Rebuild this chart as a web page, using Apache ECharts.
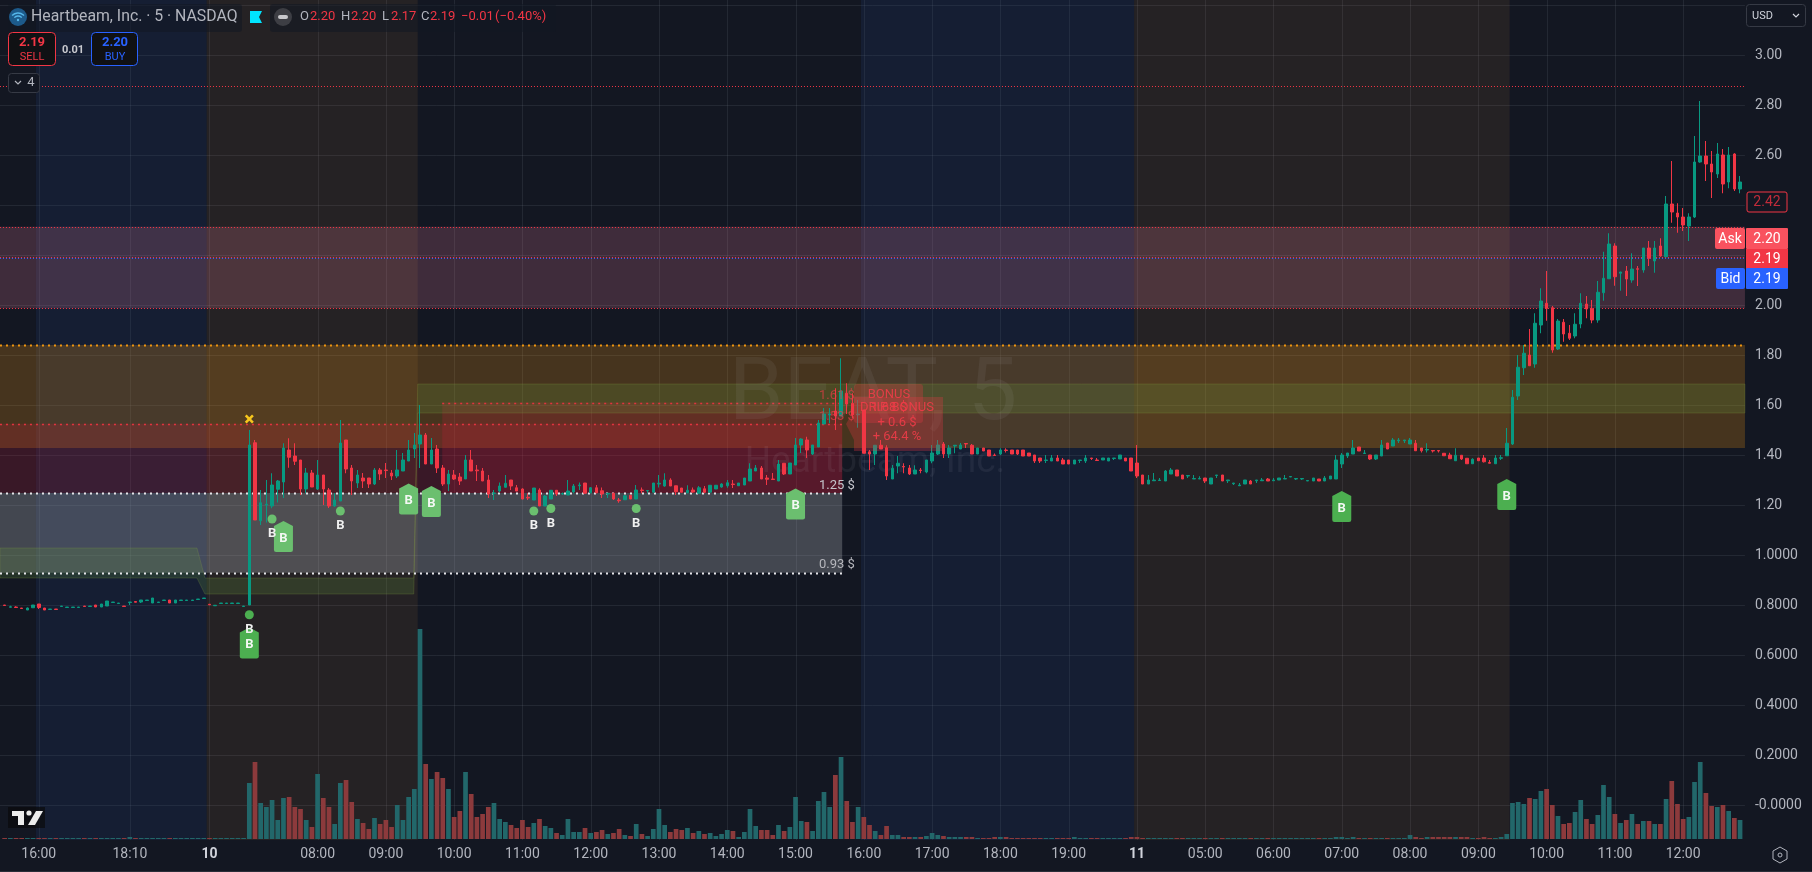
<!DOCTYPE html>
<html><head><meta charset="utf-8">
<style>html,body{margin:0;padding:0;background:#131722}#c{width:1812px;height:872px}</style>
<script src="https://cdn.jsdelivr.net/npm/echarts@6/dist/echarts.min.js"></script>
</head><body><div id="c"></div>
<script>
// ---------- DATA: rows are [open, close, low, high]; a 2-value row has no wicks ----------
const barsPriorSession = [
[.80,.798],[.791,.793,.791,.797],[.792,.79,.79,.795],[.788,.786],[.78,.788,.78,.79],[.789,.80],[.804,.79,.784,.804],[.788,.78],[.782,.784],[.784,.782],
[.794,.796],[.79,.792],[.79,.792],[.79,.792],[.796,.794],[.794,.796],[.80,.792],[.792,.804],[.796,.816],[.81,.812],
[.806,.808],[.796,.794],[.81,.812,.80,.812],[.814,.811,.811,.816],[.812,.82,.808,.82],[.818,.82],[.808,.828],[.81,.812],[.818,.82],[.82,.808],
[.808,.82],[.818,.82],[.818,.82],[.818,.82],[.822,.824],[.826,.828]];
const barsDay10 = [
[.803,.801],[.797,.799],[.806,.808],[.806,.808],[.806,.808],[.806,.808],[.794,.796],
[.80,1.44,.80,1.50],[1.449,1.14,1.14,1.46],[1.137,1.209,1.12,1.26],[1.20,1.203,1.13,1.30],[1.196,1.28,1.187,1.327],[1.263,1.296,1.21,1.30],[1.292,1.428,1.228,1.447],
[1.42,1.391,1.349,1.467],[1.396,1.375,1.36,1.447],[1.38,1.264,1.24,1.38],[1.264,1.328,1.247,1.348],[1.328,1.272,1.272,1.34],[1.264,1.32,1.26,1.38],[1.32,1.264,1.20,1.32],
[1.26,1.196,1.188,1.268],[1.196,1.22,1.193,1.247],[1.216,1.448,1.216,1.54],[1.46,1.344,1.327,1.46],[1.348,1.296,1.24,1.36],[1.288,1.32,1.268,1.34],[1.308,1.296,1.268,1.328],
[1.308,1.284,1.268,1.308],[1.284,1.34,1.28,1.348],[1.34,1.324,1.30,1.348],[1.34,1.338,1.308,1.368],[1.328,1.316,1.30,1.34],[1.316,1.34,1.308,1.42],[1.336,1.38,1.336,1.408],
[1.376,1.42,1.376,1.46],[1.424,1.44,1.388,1.488],[1.444,1.48,1.348,1.60],[1.48,1.364,1.364,1.488],[1.364,1.42,1.364,1.468],[1.424,1.348,1.328,1.44],[1.348,1.284,1.276,1.36],
[1.284,1.324,1.256,1.34],[1.32,1.304,1.30,1.34],[1.312,1.296,1.28,1.328],[1.304,1.38,1.304,1.40],[1.38,1.336,1.336,1.42],[1.34,1.337,1.296,1.36],[1.336,1.296,1.296,1.348],
[1.30,1.244,1.228,1.32],[1.247,1.248,1.22,1.26],[1.256,1.276,1.25,1.29],[1.271,1.287,1.27,1.32],[1.30,1.276,1.26,1.30],[1.269,1.256,1.256,1.28],[1.264,1.224,1.223,1.267],
[1.231,1.228,1.22,1.247],[1.22,1.268],[1.26,1.196,1.196,1.267],[1.196,1.236,1.196,1.24],[1.224,1.259,1.224,1.26],[1.259,1.244,1.236,1.259],[1.244,1.246,1.24,1.25],
[1.24,1.256,1.24,1.30],[1.252,1.276,1.247,1.284],[1.277,1.28,1.26,1.29],[1.288,1.247],[1.249,1.269,1.247,1.272],[1.269,1.249,1.247,1.28],[1.257,1.244,1.228,1.27],
[1.244,1.247,1.228,1.247],[1.247,1.224,1.22,1.249],[1.22,1.217,1.209,1.228],[1.221,1.237,1.22,1.24],[1.239,1.224],[1.224,1.26,1.224,1.28],[1.26,1.258,1.247,1.27],
[1.256,1.258,1.247,1.258],[1.251,1.288,1.25,1.288],[1.284,1.287,1.27,1.32],[1.276,1.30,1.273,1.327],[1.30,1.276,1.276,1.307],[1.277,1.253,1.24,1.277],[1.268,1.251],
[1.249,1.259,1.247,1.279],[1.26,1.252,1.249,1.27],[1.247,1.269,1.244,1.276],[1.265,1.251,1.247,1.276],[1.251,1.279],[1.264,1.279,1.264,1.28],[1.272,1.284,1.269,1.287],
[1.277,1.289,1.269,1.30],[1.284,1.282,1.268,1.30],[1.277,1.288],[1.28,1.308],[1.296,1.344,1.296,1.367],[1.336,1.348,1.336,1.36],[1.348,1.304,1.304,1.356],
[1.308,1.303,1.28,1.32],[1.304,1.302,1.30,1.328],[1.296,1.364,1.296,1.38],[1.367,1.324,1.32,1.367],[1.324,1.368],[1.36,1.44,1.36,1.468],[1.44,1.464,1.408,1.467],
[1.46,1.42,1.388,1.473],[1.404,1.44,1.40,1.44],[1.432,1.528,1.432,1.54],[1.524,1.564,1.524,1.588],[1.56,1.564,1.527,1.588],[1.576,1.556,1.50,1.667],[1.556,1.656,1.556,1.787],
[1.647,1.604,1.564,1.687],[1.607,1.56,1.547,1.647],[1.561,1.564,1.509,1.62],[1.58,1.407],[1.413,1.404,1.34,1.42],[1.404,1.439,1.36,1.439],[1.439,1.424,1.424,1.46],
[1.429,1.316,1.30,1.439],[1.304,1.347,1.304,1.36],[1.356,1.367,1.327,1.396],[1.354,1.352,1.327,1.367],[1.348,1.324,1.32,1.36],[1.324,1.34,1.324,1.359],[1.34,1.338,1.327,1.348],
[1.332,1.38,1.327,1.38],[1.376,1.408,1.367,1.44],[1.404,1.44,1.40,1.46],[1.444,1.404,1.388,1.452],[1.404,1.428,1.388,1.44],[1.436,1.439,1.407,1.439],[1.424,1.44,1.424,1.448],
[1.446,1.444,1.428,1.446],[1.439,1.404,1.404,1.444],[1.404,1.428],[1.428,1.416],[1.42,1.396],[1.40,1.398,1.398,1.406],[1.404,1.42,1.40,1.427],
[1.42,1.418,1.41,1.427],[1.42,1.404],[1.42,1.404,1.40,1.42],[1.42,1.396],[1.408,1.396],[1.40,1.376,1.368,1.40],[1.388,1.376,1.368,1.388],
[1.378,1.38,1.368,1.40],[1.376,1.388,1.376,1.40],[1.388,1.376,1.376,1.40],[1.38,1.364,1.364,1.388],[1.38,1.364],[1.364,1.38],[1.378,1.38,1.368,1.38],
[1.376,1.388,1.368,1.40],[1.388,1.386,1.38,1.388],[1.38,1.378,1.378,1.388],[1.38,1.388],[1.376,1.388],[1.386,1.388,1.38,1.388],[1.384,1.40],
[1.388,1.376],[1.388,1.336]];
const barsDay11 = [
[1.368,1.316,1.308,1.44],[1.32,1.284],[1.284,1.30,1.284,1.32],[1.297,1.30,1.297,1.328],[1.298,1.30,1.298,1.308],[1.296,1.336,1.296,1.34],[1.324,1.34,1.324,1.348],[1.34,1.316],[1.32,1.304],[1.316,1.318,1.308,1.318],
[1.304,1.306,1.304,1.32],[1.304,1.306,1.304,1.315],[1.308,1.296,1.288,1.308],[1.284,1.308],[1.318,1.32,1.308,1.32],[1.32,1.296],[1.297,1.30,1.288,1.30],[1.285,1.288,1.28,1.288],[1.277,1.28,1.277,1.288],[1.284,1.30],
[1.296,1.284,1.284,1.30],[1.297,1.30,1.288,1.30],[1.297,1.30,1.296,1.308],[1.304,1.296,1.296,1.308],[1.297,1.30,1.296,1.308],[1.30,1.308],[1.304,1.306,1.304,1.32],[1.312,1.314],[1.304,1.306,1.30,1.306],[1.304,1.306,1.30,1.306],
[1.296,1.298],[1.296,1.308],[1.304,1.296],[1.296,1.308,1.296,1.316],[1.304,1.316],[1.304,1.38,1.304,1.40],[1.364,1.40,1.348,1.408],[1.396,1.408,1.388,1.408],[1.404,1.428,1.404,1.46],[1.432,1.416],
[1.406,1.408,1.404,1.42],[1.40,1.384,1.38,1.40],[1.384,1.40,1.38,1.40],[1.396,1.44,1.396,1.46],[1.448,1.424],[1.436,1.46,1.436,1.468],[1.457,1.46,1.448,1.468],[1.457,1.46,1.448,1.46],[1.444,1.46,1.444,1.468],[1.447,1.417,1.417,1.46],[1.428,1.417,1.41,1.428],
[1.42,1.422,1.41,1.447],[1.418,1.416,1.41,1.418],[1.418,1.416,1.41,1.418],[1.407,1.397],[1.40,1.385,1.385,1.409],[1.377,1.399,1.377,1.427],[1.399,1.384,1.38,1.399],[1.387,1.365],[1.365,1.383,1.365,1.387],[1.388,1.377],
[1.388,1.373,1.37,1.40],[1.37,1.367,1.367,1.38],[1.365,1.388,1.365,1.40],[1.387,1.389,1.38,1.40],[1.397,1.447,1.397,1.508],[1.444,1.631,1.44,1.66],[1.636,1.751,1.62,1.80],[1.749,1.807,1.72,1.84],[1.80,1.757,1.757,1.904],[1.764,1.927,1.749,1.967],
[1.92,2.016,1.887,2.067],[2.007,1.987,1.937,2.136],[1.989,1.82,1.809,1.996],[1.824,1.936,1.82,1.944],[1.931,1.884,1.853,1.944],[1.887,1.867,1.86,1.92],[1.876,1.923,1.867,1.967],[1.924,2.007,1.907,2.047],[2.004,1.984,1.947,2.036],[1.985,1.94,1.927,2.02],
[1.94,2.051,1.929,2.096],[2.049,2.107,2.017,2.213],[2.105,2.244,2.105,2.287],[2.236,2.113,2.077,2.247],[2.127,2.132,2.057,2.133],[2.136,2.104,2.036,2.156],[2.10,2.144,2.089,2.207],[2.145,2.143,2.076,2.156],[2.14,2.228,2.129,2.228],[2.228,2.187,2.156,2.256],
[2.176,2.228,2.129,2.256],[2.236,2.196,2.193,2.267],[2.193,2.404,2.193,2.436],[2.404,2.372,2.329,2.576],[2.368,2.352,2.289,2.407],[2.352,2.32,2.296,2.388],[2.316,2.352,2.256,2.367],[2.352,2.572,2.348,2.676],[2.572,2.596,2.569,2.816],[2.596,2.564,2.496,2.656],
[2.564,2.532,2.428,2.616],[2.524,2.604,2.508,2.648],[2.60,2.484,2.447,2.624],[2.492,2.60,2.467,2.632],[2.604,2.464,2.456,2.607],[2.464,2.492,2.447,2.516]];
const volumesPriorSession = [1,1,1,1,1,1,1,1,1,1, 1,1,1,1,1,1,1,1,1,1, 1,1,2,1,1,1,1,1,1,1, 1,1,1,1,1,1];
const volumesDay10 = [1,1,1,1,1,1,1,
56,77,36,32,39,19,41,42,32,30,19,12,65,41,32,15,56,59,37,20,16,10,21,15,19,12,34,19,42,50,210,75,60,67,61,50,22,28,67,45,22,25,32,36,20,17,14,11,19,12,16,20,13,11,6,4,20,7,7,11,6,7,9,5,6,10,4,3,15,5,3,10,30,14,7,10,9,11,6,8,5,6,3,5,9,8,2,7,30,13,9,
9,4,14,8,12,42,18,17,8,38,47,32,64,82,38,17,32,22,14,8,4,13,4,4,
2,2,2,2,3,6,4,3,2,2,2,2,2,1,1,1,2,2,2, 1,1,1,1,1,1,1,1,1,1,1, 2, 1,1,1,1,1,1,1,1,1, 2];
const volumesDay11 = [2, 1,1,1,1,1,1,1,1,1,1, 1,1,1,1,1,1,1,1,1,1, 1,1,1,1,1,1,1,1,1,1, 1,1,1,1,
2,2,1,2, 1,1,1,1,1,1,1,1,1, 4,2,1,2, 2,2,2,2,2,2,2, 1,1,2,1,1,2,5,
36,37,35,41,40,48,50,34,23,15,16,27,39,20,15,24,54,42,25,16,19,25,15,18,18,15,15,40,58,35,20,22,57,77,46,33,32,34,28,21,19];

const timeTickIndex = [6,22,36,55,67,79,91,103,115,127,139,151,163,175,187,199,211,223,235,247,259,271,283,295];
const timeTickLabels = ['16:00','18:10','10','08:00','09:00','10:00','11:00','12:00','13:00','14:00','15:00','16:00','17:00','18:00','19:00','11','05:00','06:00','07:00','08:00','09:00','10:00','11:00','12:00'];
const priceTickValues = [0,.2,.4,.6,.8,1,1.2,1.4,1.6,1.8,2,2.2,2.4,2.6,2.8,3,3.2];
const priceTickLabels = ['-0.0000','0.2000','0.4000','0.6000','0.8000','1.0000','1.20','1.40','1.60','1.80','2.00','2.20','2.40','2.60','2.80','3.00',''];

// [kind, fromBar, toBar, lowPrice, highPrice]
const zones = [
 ['post',5.5,35.5,-.14,3.24],['pre',35.5,72.6,-.14,3.24],['post',150.5,198.5,-.14,3.24],['pre',198.5,264.5,-.14,3.24],
 ['pink',-.82,305.86,1.987,2.313],['orange',-.82,305.86,1.428,1.84],
 ['white',-.82,147.2,.929,1.248],['red',-.82,147.2,1.248,1.525],['red',76.9,147.2,1.248,1.61]];
// the stepped indicator band, [bar, price]
const bandEdge = [[-.82,1.028],[33.8,1.028],[35.2,.908],[71.9,.908],[72.6,1.684],[305.86,1.684],[305.86,1.568],[72.6,1.568],[71.9,.844],[35.2,.844],[33.8,.908],[-.82,.908]];
// [kind, fromBar, toBar, price]
const levels = [
 ['thinRed',-.82,305.86,2.875],['thinRed',-.82,305.86,2.313],['thinRed',-.82,305.86,1.987],['thinRed',-.82,305.86,2.193],['thinBlue',-.82,305.86,2.188],
 ['orange',-.82,305.86,1.84],['red',-.82,147.2,1.525],['red',76.9,147.2,1.61],['white',-.82,147.2,1.248],['white',-.82,147.2,.929]];
const buyFlagsStrong = [[43,.648],[235,1.194],[264,1.242]];
const buyFlagsFaint = [[49,1.074],[71,1.224],[75,1.214],[139,1.204]];
const buyDotsStrong = [[43,.761]];
const buyDotsFaint = [[47,1.144],[59,1.176],[93,1.176],[96,1.186],[111,1.186]];
const crossMarks = [[43,1.544]];

// ---------- build ----------
const candles = barsPriorSession.concat(barsDay10, barsDay11).map(r => r.length === 4 ? r : [r[0], r[1], Math.min(r[0], r[1]), Math.max(r[0], r[1])]);
const volumes = volumesPriorSession.concat(volumesDay10, volumesDay11);
const categories = candles.map(() => '');
timeTickIndex.forEach((k, j) => categories[k] = timeTickLabels[j]);

const UP = '#089981', DOWN = '#f23645', TXT = '#b2b5be', BG = '#131722';
const zoneFill = {post:'rgba(30,60,120,.2)',pre:'rgba(255,170,60,.08)',pink:'rgba(240,130,160,.2)',orange:'rgba(255,160,20,.22)',white:'rgba(178,181,190,.3)',red:'rgba(210,30,60,.2)'};
const levelStyle = {thinRed:{stroke:'#f23645',lineWidth:1,lineDash:[1,2]},thinBlue:{stroke:'#2962ff',lineWidth:1,lineDash:[1,2]},
 orange:{stroke:'#f0960f',lineWidth:2,lineDash:[2,4]},red:{stroke:'#e0353f',lineWidth:1.5,lineDash:[2,4]},white:{stroke:'#e6e6ea',lineWidth:2,lineDash:[2,4]}};

const GRID_L = 1.8, GRID_W = 1741.1;
const chart = echarts.init(document.getElementById('c'), null, {renderer:'canvas'});

const T = (text,x,y,o={}) => ({type:'text',z:o.z||100,x,y,style:{text,fill:o.fill||TXT,font:(o.w||'normal')+' '+(o.s||13)+'px Roboto, "Liberation Sans", sans-serif',textAlign:o.a||'left',textVerticalAlign:'middle',opacity:o.op==null?1:o.op}});
const R = (x,y,w,h,o={}) => ({type:'rect',z:o.z||99,shape:{x,y,width:w,height:h,r:o.r||0},style:{fill:o.fill||'transparent',stroke:o.stroke||null,lineWidth:o.lw||1}});
const P = (pts,o={}) => ({type:'polygon',z:o.z||100,shape:{points:pts},style:{fill:o.fill||'transparent',stroke:o.stroke||null,lineWidth:o.lw||1}});
const PL = (pts,o={}) => ({type:'polyline',z:o.z||100,shape:{points:pts},style:{stroke:o.stroke||TXT,lineWidth:o.lw||1.2,fill:null}});
const C = (cx,cy,r,o={}) => ({type:'circle',z:o.z||100,shape:{cx,cy,r},style:{fill:o.fill||'transparent',stroke:o.stroke||null,lineWidth:o.lw||1}});

const RED_TXT = 'rgba(238,60,72,.9)';
const graphic = [
 // watermark
 T('BEAT, 5',873,397,{s:88,a:'center',fill:'rgba(205,208,220,.075)',z:1.5}),
 T('Heartbeam, Inc.',875,463,{s:37,a:'center',fill:'rgba(205,208,220,.075)',z:1.5}),
 // header
 R(8,4,234,28,{fill:'rgba(19,23,34,.55)',r:3,z:90}),R(270,4,286,28,{fill:'rgba(19,23,34,.55)',r:3,z:90}),
 C(18,17,9,{fill:'#1d5a8a'}),
 {type:'arc',z:101,shape:{cx:18,cy:21,r:8,startAngle:-2.4,endAngle:-0.74},style:{stroke:'#55b7ea',fill:null,lineWidth:1.4}},
 {type:'arc',z:101,shape:{cx:18,cy:21,r:5,startAngle:-2.4,endAngle:-0.74},style:{stroke:'#55b7ea',fill:null,lineWidth:1.4}},
 C(18,20,1.2,{fill:'#55b7ea',z:101}),
 T('Heartbeam, Inc. · 5 · NASDAQ',31,17,{s:15.8}),
 P([[250,11],[262,11],[259,17],[262,23],[250,23]],{fill:'#00e5ff'}),
 C(283,17,9,{fill:'#3d3e44'}),R(278,15,10,4,{fill:'#c8c8cc',r:2,z:101}),
 T('O',300,17,{s:13}),T('2.20',310,17,{fill:DOWN}),T('H',341,17),T('2.20',351,17,{fill:DOWN}),T('L',382,17),T('2.17',391,17,{fill:DOWN}),T('C',421,17),T('2.19',430,17,{fill:DOWN}),T('−0.01',461,17,{fill:DOWN}),T('(−0.40%)',495,17,{fill:DOWN}),
 R(8.5,32.5,47,33,{stroke:DOWN,fill:'#101114',r:4}),T('2.19',32,43,{a:'center',fill:DOWN,w:'bold'}),T('SELL',32,57,{a:'center',fill:DOWN,s:11}),
 T('0.01',73,50,{a:'center',s:11,w:'bold',fill:'#c8c9cf'}),
 R(91.5,32.5,46,33,{stroke:'#2962ff',fill:'#101114',r:4}),T('2.20',115,43,{a:'center',fill:'#2962ff',w:'bold'}),T('BUY',115,57,{a:'center',fill:'#2962ff',s:11}),
 R(8.5,73.5,31,19,{stroke:'#363a45',fill:BG,r:3}),PL([[15,81],[18,84],[21,81]]),T('4',31,83,{a:'center'}),
 // right side
 R(1746.5,4.5,59,22,{stroke:'#363a45',fill:BG,r:3}),T('USD',1752,16,{s:11,fill:'#d1d4dc'}),PL([[1793,14],[1796,17],[1799,14]],{stroke:'#d1d4dc'}),
 R(1747,192,40,20,{stroke:DOWN,fill:BG,r:2}),T('2.42',1767,202.5,{a:'center',fill:'#c02c3a',s:14}),
 R(1715,228,30,21,{fill:'#f9525f',r:2}),T('Ask',1730,239,{a:'center',fill:'#fff',s:14}),
 R(1746,228,42,21,{fill:'#f9525f',r:1}),T('2.20',1767,239,{a:'center',fill:'#fff',s:14}),
 R(1746,249,42,20,{fill:DOWN}),T('2.19',1767,259,{a:'center',fill:'#fff',s:14}),
 R(1716,268,29,21,{fill:'#2962ff',r:2}),T('Bid',1730.5,279,{a:'center',fill:'#fff',s:14}),
 R(1746,268,42,21,{fill:'#2962ff',r:1}),T('2.19',1767,279,{a:'center',fill:'#fff',s:14}),
 // bottom right / logo
 P([[1780,847],[1787,851],[1787,859],[1780,863],[1773,859],[1773,851]],{stroke:TXT}),C(1780,855,2,{stroke:TXT}),
 R(0,871,1812,1,{fill:'#2a2e39',z:100}),
 R(8,807,37,21,{fill:'rgba(10,10,12,.7)',z:99}),
 P([[12,811],[24,811],[24,825],[18,825],[18,816],[12,816]],{fill:'#ececec'}),C(29,813,2.6,{fill:'#ececec'}),P([[36,811],[43,811],[35,825],[28,825]],{fill:'#ececec'}),
 // trade annotations
 T('1.25 $',819,486,{s:13,fill:'#c5c6cc'}),T('0.93 $',819,565,{s:13,fill:'#b5b6bc'}),
 T('1.61 $',819,396,{s:13,fill:RED_TXT,op:.75}),T('1.53 $',819,417,{s:13,fill:RED_TXT,op:.75}),
 R(854,384,69,39,{fill:'rgba(242,54,69,.28)',r:3,z:5}),
 P([[854,397],[943,397],[943,451],[854,451],[854,440],[846,424],[854,410]],{fill:'rgba(242,54,69,.28)',z:5}),
 T('BONUS',889,395,{a:'center',fill:RED_TXT,s:13,z:6}),T('1.68 $',889,408,{a:'center',fill:RED_TXT,s:13,z:6}),
 T('DRIP BONUS',897,408,{a:'center',fill:RED_TXT,s:13,z:6}),T('+ 0.6 $',897,423,{a:'center',fill:RED_TXT,s:13,z:6}),T('+ 64.4 %',897,437,{a:'center',fill:RED_TXT,s:13,z:6})
];

const flagPath = 'path://M9,0 L18,5 L18,29 Q18,31 16,31 L2,31 Q0,31 0,29 L0,5 Z';
const flagSeries = (data,color) => ({type:'scatter',xAxisIndex:2,yAxisIndex:0,z:6,symbol:flagPath,symbolSize:[19,31],data,itemStyle:{color,opacity:1},
 label:{show:true,position:'inside',offset:[0,2],formatter:'B',color:'#f4f8f4',fontWeight:'bold',fontSize:13,fontFamily:'Roboto'},silent:true});
const dotSeries = (data,color) => ({type:'scatter',xAxisIndex:2,yAxisIndex:0,z:6,symbol:'circle',symbolSize:9,data,itemStyle:{color,opacity:1},
 label:{show:true,position:'bottom',distance:4,formatter:'B',color:'#f0f0f0',fontWeight:'bold',fontSize:13,fontFamily:'Roboto'},silent:true});

const option = {
 animation:false, backgroundColor:BG, graphic:{elements:graphic},
 grid:[{left:GRID_L,width:GRID_W,top:5,height:850},{left:GRID_L,width:GRID_W,top:600,height:239}],
 xAxis:[
  {type:'category',gridIndex:0,data:categories,show:false,boundaryGap:true},
  {type:'category',gridIndex:1,data:categories,boundaryGap:true,axisLine:{show:false},axisTick:{show:false},splitLine:{show:false},
   axisLabel:{show:true,color:TXT,fontSize:14,fontFamily:'Roboto',margin:8,hideOverlap:false,showMinLabel:true,showMaxLabel:true,
    interval:(i,v)=>v!=='',
    formatter:(v)=>/^\d\d$/.test(v)?'{b|'+v+'}':v,
    rich:{b:{fontWeight:'bold',fontSize:14,color:'#d1d4dc',fontFamily:'Roboto'}}}},
  {type:'value',gridIndex:0,min:-.5,max:305.5,show:false}
 ],
 yAxis:[
  {type:'value',gridIndex:0,min:-.2,max:3.2,interval:.2,position:'right',axisLine:{show:false},axisTick:{show:false},splitLine:{show:false},
   axisLabel:{color:TXT,fontSize:14,fontFamily:'Roboto',margin:12,align:'left',showMinLabel:false,showMaxLabel:false,
    formatter:(v)=>{const k=priceTickValues.findIndex(p=>Math.abs(p-v)<1e-6);return k<0?'':priceTickLabels[k];}}},
  {type:'value',gridIndex:1,min:0,max:239,show:false}
 ],
 series:[
  {type:'custom',name:'grid',xAxisIndex:2,yAxisIndex:0,z:0.5,silent:true,clip:false,data:priceTickValues.map((p,k)=>[k]),
   renderItem:(params,api)=>{const p=priceTickValues[params.dataIndex];const a=api.coord([-.82,p]),b=api.coord([305.86,p]);
    return {type:'line',shape:{x1:a[0],y1:a[1]+.5,x2:b[0],y2:b[1]+.5},style:{stroke:'rgba(120,123,134,.17)',lineWidth:1}};}},
  {type:'custom',name:'gridV',xAxisIndex:2,yAxisIndex:0,z:0.5,silent:true,clip:false,data:timeTickIndex.map((k)=>[k]),
   renderItem:(params,api)=>{const k=timeTickIndex[params.dataIndex];const a=api.coord([k,-.14]),b=api.coord([k,3.24]);
    return {type:'line',shape:{x1:Math.round(a[0])+.5,y1:a[1],x2:Math.round(a[0])+.5,y2:b[1]},style:{stroke:'rgba(120,123,134,.17)',lineWidth:1}};}},
  {type:'custom',name:'zones',xAxisIndex:2,yAxisIndex:0,z:1,silent:true,clip:false,data:zones.map((z,k)=>[k]),
   renderItem:(params,api)=>{const z=zones[params.dataIndex];const a=api.coord([z[1],z[4]]),b=api.coord([z[2],z[3]]);
    return {type:'rect',shape:{x:a[0],y:a[1],width:b[0]-a[0],height:b[1]-a[1]},style:{fill:zoneFill[z[0]]}};}},
  {type:'custom',name:'band',xAxisIndex:2,yAxisIndex:0,z:1.2,silent:true,clip:false,data:[[0]],
   renderItem:(params,api)=>({type:'polygon',shape:{points:bandEdge.map(p=>api.coord(p))},style:{fill:'rgba(100,150,60,.22)',stroke:'rgba(140,165,70,.22)',lineWidth:1}})},
  {type:'custom',name:'levels',xAxisIndex:2,yAxisIndex:0,z:1.4,silent:true,clip:false,data:levels.map((l,k)=>[k]),
   renderItem:(params,api)=>{const l=levels[params.dataIndex];const a=api.coord([l[1],l[3]]),b=api.coord([l[2],l[3]]);
    return {type:'line',shape:{x1:a[0],y1:Math.round(a[1])+.5,x2:b[0],y2:Math.round(a[1])+.5},style:Object.assign({},levelStyle[l[0]])};}},
  {type:'bar',name:'Volume',xAxisIndex:1,yAxisIndex:1,z:2,barWidth:4.7,silent:true,
   data:volumes.map((v,i)=>({value:v,itemStyle:{color:candles[i][1]>=candles[i][0]?'#22676a':'#8c3a3c'}}))},
  {type:'candlestick',name:'BEAT',xAxisIndex:0,yAxisIndex:0,z:3,barWidth:3,silent:true,data:candles,
   itemStyle:{color:UP,color0:DOWN,borderColor:UP,borderColor0:DOWN,borderWidth:1}},
  flagSeries(buyFlagsStrong,'#4caf50'),flagSeries(buyFlagsFaint,'#6bbf6f'),
  dotSeries(buyDotsStrong,'#4caf50'),dotSeries(buyDotsFaint,'#6bbf6f'),
  {type:'scatter',xAxisIndex:2,yAxisIndex:0,z:6,silent:true,data:crossMarks,symbol:'path://M0,2 L2,0 L5,3 L8,0 L10,2 L7,5 L10,8 L8,10 L5,7 L2,10 L0,8 L3,5 Z',symbolSize:9,itemStyle:{color:'#f7c61d',opacity:1}}
 ]
};
chart.setOption(option);
</script></body></html>
